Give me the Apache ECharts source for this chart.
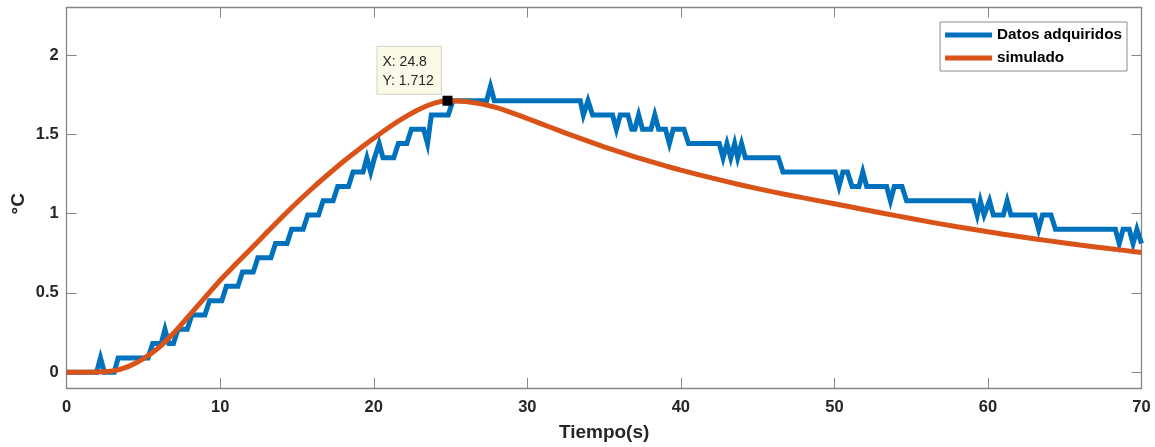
<!DOCTYPE html>
<html>
<head>
<meta charset="utf-8">
<title>Datos adquiridos vs simulado</title>
<script src="https://cdn.jsdelivr.net/npm/echarts@6/dist/echarts.min.js"></script>
<style>
  html, body { margin: 0; padding: 0; background: #ffffff; }
  #chart { width: 1155px; height: 447px; }
</style>
</head>
<body>
<div id="chart"></div>
<script>
// Axis ticks
const xTicks = [0, 10, 20, 30, 40, 50, 60, 70];
const yTicks = [0, 0.5, 1, 1.5, 2];

// Measured temperature (quantised sensor readings), vertices of the trace
const adqTiempo = [
  0, 1.95, 2.2, 2.45, 3.1, 3.35, 5.3, 5.6, 6.15, 6.4, 6.65, 6.95, 7.25, 7.85, 8.15,
  9.0, 9.3, 10.1, 10.4, 11.15, 11.45, 12.15, 12.45, 13.3, 13.6, 14.35, 14.65, 15.4, 15.7,
  16.4, 16.7, 17.35, 17.65, 18.35, 18.65, 19.3, 19.55, 19.8, 20.05, 20.35, 20.6, 21.3,
  21.6, 22.15, 22.45, 23.25, 23.5, 23.75, 24.85, 25.15, 27.35, 27.6, 27.85, 33.45,
  33.65, 33.95, 34.25, 35.55, 35.8, 36.05, 36.55, 36.8, 37.0, 37.25, 37.5, 38.05, 38.3,
  38.55, 39.0, 39.25, 39.5, 40.2, 40.5, 42.5, 42.75, 43.0, 43.25, 43.5, 43.7, 43.95,
  44.2, 46.35, 46.65, 50.05, 50.3, 50.55, 50.85, 51.15, 51.6, 51.85, 52.1, 53.4, 53.65,
  53.9, 54.4, 54.7, 59.05, 59.3, 59.5, 59.75, 59.85, 60.1, 60.35, 61.0, 61.25, 61.5,
  63.05, 63.3, 63.55, 64.1, 64.4, 68.3, 68.55, 68.8, 69.2, 69.45, 69.7, 70
];
const adqTemp = [
  0, 0, 0.090, 0, 0, 0.090, 0.090, 0.180, 0.180, 0.270, 0.180, 0.180, 0.270, 0.270, 0.360,
  0.360, 0.451, 0.451, 0.541, 0.541, 0.631, 0.631, 0.721, 0.721, 0.811, 0.811, 0.901, 0.901, 0.991,
  0.991, 1.081, 1.081, 1.171, 1.171, 1.262, 1.262, 1.352, 1.262, 1.352, 1.442, 1.352, 1.352,
  1.442, 1.442, 1.532, 1.532, 1.442, 1.622, 1.622, 1.712, 1.712, 1.802, 1.712, 1.712,
  1.622, 1.712, 1.622, 1.622, 1.532, 1.622, 1.622, 1.532, 1.532, 1.622, 1.532, 1.532, 1.622,
  1.532, 1.532, 1.442, 1.532, 1.532, 1.442, 1.442, 1.352, 1.442, 1.352, 1.442, 1.352, 1.442,
  1.352, 1.352, 1.262, 1.262, 1.171, 1.262, 1.262, 1.171, 1.171, 1.262, 1.171, 1.171, 1.081,
  1.171, 1.171, 1.081, 1.081, 0.991, 1.081, 0.991, 0.991, 1.081, 0.991, 0.991, 1.081, 0.991,
  0.991, 0.901, 0.991, 0.991, 0.901, 0.901, 0.811, 0.901, 0.901, 0.811, 0.901, 0.811
];

// Simulated model response
const simTiempo = [
  0, 1, 2, 3, 4, 5, 6, 7, 8, 9, 10, 11, 12, 13, 14, 15, 16, 17, 18, 19, 20, 21, 22, 23, 24,
  24.8, 26, 27, 28, 29, 30, 31, 32, 33, 34, 35, 36, 37, 38, 39, 40, 42, 44, 46, 48, 50,
  52, 54, 56, 58, 60, 62, 64, 66, 68, 70
];
const simTemp = [
  0, 0, 0.001, 0.008, 0.035, 0.085, 0.155, 0.25, 0.36, 0.47, 0.58, 0.68, 0.778, 0.877, 0.975,
  1.07, 1.16, 1.245, 1.327, 1.403, 1.475, 1.545, 1.607, 1.66, 1.698,
  1.712, 1.707, 1.692, 1.668, 1.636, 1.6, 1.563, 1.526, 1.49, 1.455, 1.421, 1.389, 1.358,
  1.329, 1.301, 1.274, 1.225, 1.179, 1.137, 1.099, 1.062,
  1.024, 0.987, 0.951, 0.917, 0.885, 0.855, 0.828, 0.802, 0.778, 0.755
];

// Data tip on the simulated curve
const tipX = 24.8;
const tipY = 1.712;

const FONT = '"Liberation Sans", Arial, Helvetica, sans-serif';
const AXIS_GRAY = '#868686';
const TEXT_DARK = '#262626';

const zip = (a, b) => a.map((v, i) => [v, b[i]]);

const chart = echarts.init(document.getElementById('chart'), null, { renderer: 'canvas' });

const axisLineStyle = { show: true, onZero: false, lineStyle: { color: AXIS_GRAY, width: 1.3 } };
const tickStyle = { show: true, inside: true, length: 10, lineStyle: { color: AXIS_GRAY, width: 1 } };

chart.setOption({
  animation: false,
  backgroundColor: '#ffffff',
  grid: { left: 66.7, right: 13.5, top: 7.5, bottom: 58, containLabel: false },
  legend: {
    data: ['Datos adquiridos', 'simulado'],
    orient: 'vertical',
    right: 28,
    top: 22,
    backgroundColor: '#ffffff',
    borderColor: '#8c8c8c',
    borderWidth: 1,
    padding: [5, 5, 5, 5],
    itemWidth: 47,
    itemHeight: 5,
    itemGap: 7,
    icon: 'rect',
    selectedMode: false,
    textStyle: { fontFamily: FONT, fontWeight: 'bold', fontSize: 15.3, color: '#000', lineHeight: 16 }
  },
  xAxis: [
    {
      type: 'value', position: 'bottom', min: xTicks[0], max: xTicks[xTicks.length - 1], interval: 10,
      axisLine: axisLineStyle, axisTick: tickStyle, splitLine: { show: false },
      axisLabel: { color: TEXT_DARK, fontFamily: FONT, fontWeight: 'bold', fontSize: 16.5, margin: 11 },
      name: 'Tiempo(s)', nameLocation: 'middle', nameGap: 35, nameMoveOverlap: false,
      nameTextStyle: { color: TEXT_DARK, fontFamily: FONT, fontWeight: 'bold', fontSize: 19 }
    },
    {
      type: 'value', position: 'top', min: xTicks[0], max: xTicks[xTicks.length - 1], interval: 10,
      axisLine: axisLineStyle, axisTick: tickStyle, splitLine: { show: false },
      axisLabel: { show: false }
    }
  ],
  yAxis: [
    {
      type: 'value', position: 'left', min: -0.1, max: 2.3,
      axisLine: axisLineStyle,
      axisTick: Object.assign({}, tickStyle, { customValues: yTicks }),
      splitLine: { show: false },
      axisLabel: { color: TEXT_DARK, fontFamily: FONT, fontWeight: 'bold', fontSize: 16.5, margin: 8, customValues: yTicks },
      name: '°C', nameLocation: 'middle', nameGap: 38, nameRotate: 90, nameMoveOverlap: false,
      nameTextStyle: { color: TEXT_DARK, fontFamily: FONT, fontWeight: 'bold', fontSize: 19, padding: [0, 12, 0, 0] }
    },
    {
      type: 'value', position: 'right', min: -0.1, max: 2.3,
      axisLine: axisLineStyle,
      axisTick: Object.assign({}, tickStyle, { customValues: yTicks }),
      splitLine: { show: false },
      axisLabel: { show: false }
    }
  ],
  series: [
    {
      name: 'Datos adquiridos', type: 'line', xAxisIndex: 0, yAxisIndex: 0,
      data: zip(adqTiempo, adqTemp),
      symbol: 'none', showSymbol: false, silent: true, clip: true,
      color: '#0072BD',
      itemStyle: { color: '#0072BD' },
      lineStyle: { color: '#0072BD', width: 5, join: 'miter', miterLimit: 10, cap: 'butt' }
    },
    {
      name: 'simulado', type: 'line', xAxisIndex: 0, yAxisIndex: 0,
      data: zip(simTiempo, simTemp),
      smooth: 0.3,
      symbol: 'none', showSymbol: false, silent: true, clip: true,
      color: '#D95319',
      itemStyle: { color: '#D95319' },
      lineStyle: { color: '#D95319', width: 5, cap: 'butt' },
      markPoint: {
        silent: true,
        symbol: 'rect',
        symbolSize: 10,
        itemStyle: { color: '#000000' },
        data: [{
          coord: [tipX, tipY],
          label: {
            show: true,
            position: [-65, -49],
            formatter: 'X: ' + tipX + '\nY: ' + tipY,
            fontFamily: FONT,
            fontSize: 14,
            color: TEXT_DARK,
            lineHeight: 19,
            align: 'left',
            verticalAlign: 'top',
            backgroundColor: '#FAFAE6',
            borderColor: '#D2D2C8',
            borderWidth: 1,
            padding: [6, 7, 3, 5]
          }
        }]
      }
    }
  ]
});
</script>
</body>
</html>
